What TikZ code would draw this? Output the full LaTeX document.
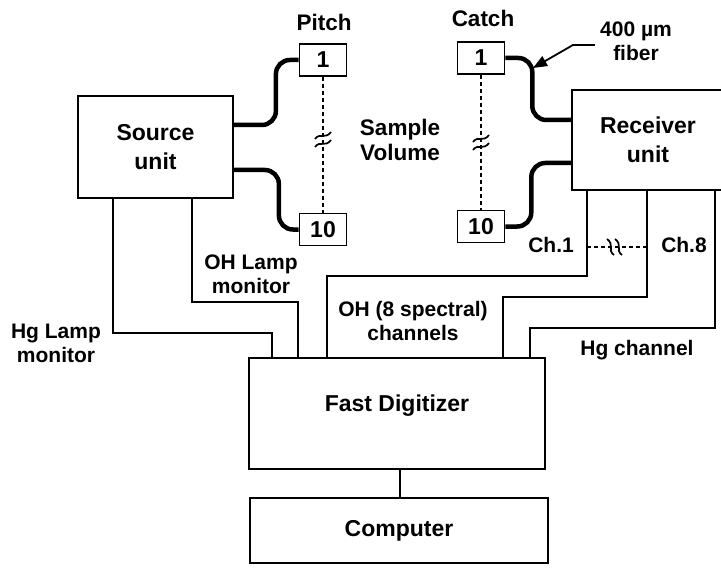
\documentclass[tikz,border=0pt]{standalone}
\usepackage{fontspec}
\setmainfont{Liberation Sans}
\usetikzlibrary{arrows.meta}

% small break mark on a dashed line
\newcommand{\cutmark}[2][0]{%
  \begin{scope}[shift={#2},rotate=#1,line width=1.7bp]
    \draw (-8,-1) .. controls (-3,-8) and (2,0) .. (8,-8);
    \draw (-8,7) .. controls (-3,0) and (2,8) .. (8,0);
  \end{scope}}

\begin{document}
\begin{tikzpicture}[x=1bp,y=-1bp,
  unitbox/.style={draw,line width=1.8bp,inner sep=0pt,align=center,
    font=\fontsize{23bp}{29bp}\selectfont\bfseries},
  portbox/.style={draw,line width=1.6bp,minimum width=47bp,minimum height=32bp,
    inner sep=0pt,font=\fontsize{23bp}{23bp}\selectfont\bfseries},
  head/.style={inner sep=0pt,align=center,font=\fontsize{22.5bp}{25bp}\selectfont\bfseries},
  note/.style={inner sep=0pt,align=center,font=\fontsize{21bp}{24bp}\selectfont\bfseries},
  fiber/.style={line width=4.5bp,rounded corners=14bp},
  wire/.style={line width=1.8bp},
  gap/.style={line width=1.4bp,dash pattern=on 4bp off 3bp}]

  \useasboundingbox (0,0) rectangle (721,571);
  \clip (0,0) rectangle (721,571);

  % units
  \node[unitbox,minimum width=155bp,minimum height=102bp] (src) at (155.5,147) {Source\\unit};
  \node[unitbox,minimum width=152bp,minimum height=100bp] (rcv) at (648,140) {Receiver\\unit};
  \node[unitbox,minimum width=296bp,minimum height=111bp,
    label={[unitbox,draw=none,yshift=8bp]center:Fast Digitizer}] (dig) at (397,413.5) {};
  \node[unitbox,minimum width=298bp,minimum height=65bp] (cmp) at (399,530.5) {Computer};

  % pitch and catch heads
  \node[portbox] (p1) at (323,60) {1};
  \node[portbox] (p10) at (323,229.5) {10};
  \node[portbox] (c1) at (481,58) {1};
  \node[portbox] (c10) at (481,226.5) {10};
  \node[head] (pitch) at (324,22) {Pitch};
  \node[head] (catch) at (483,18) {Catch};
  \node[head] (vol) at (400,140) {Sample\\Volume};

  % fibers
  \draw[fiber] ([yshift=22bp]src.east) -- ++(42,0) |- (p1.west);
  \draw[fiber] ([yshift=-23bp]src.east) -- ++(45,0) |- (p10.west);
  \draw[fiber] (c1.east) -- ++(27,0) |- ([yshift=20bp]rcv.west);
  \draw[fiber] (c10.east) -- ++(26,0) |- ([yshift=-23bp]rcv.west);

  \draw[gap] (p1) -- (p10);
  \draw[gap] (c1) -- (c10);
  \cutmark{(323,140)}
  \cutmark{(481,143)}

  % signal lines
  \coordinate (hgl) at (272,333);
  \coordinate (ohl) at (298,302);
  \coordinate (ohc) at (327,276);
  \coordinate (c8) at (503,297);
  \coordinate (hgc) at (530,328);
  \draw[wire] ([xshift=-42.5bp]src.south) |- (hgl) -- (hgl |- dig.north);
  \draw[wire] ([xshift=36.5bp]src.south) |- (ohl) -- (ohl |- dig.north);
  \draw[wire] ([xshift=-61bp]rcv.south) |- (ohc) -- (ohc |- dig.north);
  \draw[wire] ([xshift=-1bp]rcv.south) |- (c8) -- (c8 |- dig.north);
  \draw[wire] ([xshift=67bp]rcv.south) |- (hgc) -- (hgc |- dig.north);
  \coordinate (dc) at ([xshift=3bp]dig.south);
  \draw[wire,line width=1.4bp] (dc) -- (dc |- cmp.north);

  \coordinate (ch1) at (587,247);
  \coordinate (ch8) at (647,247);
  \draw[gap] (ch1) -- (ch8);
  \cutmark[90]{(615,247)}

  % labels
  \node[note,anchor=east] at (574,245) {Ch.1};
  \node[note] at (684,245) {Ch.8};
  \node[note] at (251,274) {OH Lamp\\monitor};
  \node[note] at (56,343) {Hg Lamp\\monitor};
  \node[note] at (413,321) {OH (8 spectral)\\channels};
  \node[note] at (637,350) {Hg channel};
  \node[note] (fib) at (636,41) {400 µm\\fiber};
  \coordinate (fibtip) at (533,68);
  \draw[wire,-{Triangle[length=14bp,width=11bp]}]
    ([xshift=-5bp,yshift=-4bp]fib.west) -- ++(-22,0) -- (fibtip);
\end{tikzpicture}
\end{document}
